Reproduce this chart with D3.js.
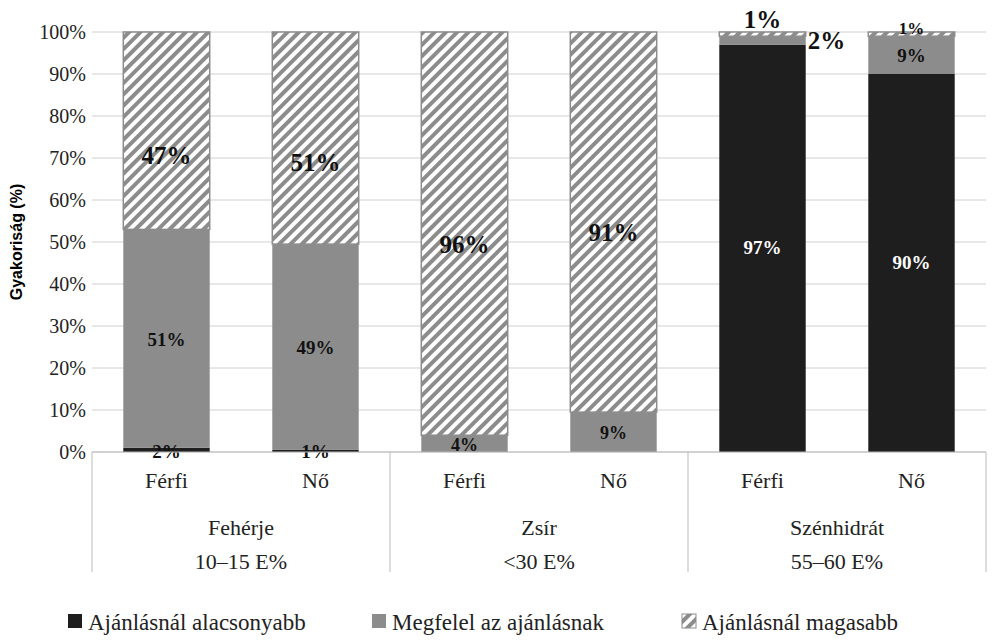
<!DOCTYPE html>
<html><head><meta charset="utf-8">
<script src="https://cdn.jsdelivr.net/npm/d3@7"></script>
<style>body{margin:0;background:#fff}</style>
</head><body>
<svg id="chart" width="992" height="641"></svg>
<script>
// data
const groups = ["Fehérje|10–15 E%", "Zsír|<30 E%", "Szénhidrát|55–60 E%"];
const sexes = ["Férfi", "Nő"];
const low = [1, 0.5, 0, 0, 97, 90];
const mid = [52, 49, 4, 9.5, 2, 9];
const high = [47, 50.5, 96, 90.5, 1, 1];
const lowLabels = ["2%", "1%", "", "", "97%", "90%"];
const midLabels = ["51%", "49%", "4%", "9%", "2%", "9%"];
const highLabels = ["47%", "51%", "96%", "91%", "1%", "1%"];
const seriesNames = ["Ajánlásnál alacsonyabb", "Megfelel az ajánlásnak", "Ajánlásnál magasabb"];
const yTicks = [0, 10, 20, 30, 40, 50, 60, 70, 80, 90, 100];

const svg = d3.select("#chart");
const plotLeft = 92, plotRight = 986, plotTop = 32, plotBottom = 452;
const serif = "'Liberation Serif', 'DejaVu Serif', serif";

// hatch pattern
const pat = svg.append("defs").append("pattern")
    .attr("id", "hatch").attr("patternUnits", "userSpaceOnUse")
    .attr("width", 8).attr("height", 8)
    .attr("patternTransform", "rotate(45)");
pat.append("rect").attr("width", 8).attr("height", 8).attr("fill", "#fff");
pat.append("rect").attr("width", 4).attr("height", 8).attr("fill", "#8c8c8c");

const bars = d3.range(6);
const x = d3.scaleBand().domain(bars).range([plotLeft, plotRight]).paddingInner(0.42).paddingOuter(0.21);
const y = d3.scaleLinear().domain([0, 100]).range([plotBottom, plotTop]);

// gridlines & y axis
svg.append("g").selectAll("line").data(yTicks).join("line")
    .attr("x1", plotLeft).attr("x2", plotRight)
    .attr("y1", d => y(d)).attr("y2", d => y(d))
    .attr("stroke", "#d0d0d0");
svg.append("g").selectAll("text").data(yTicks).join("text")
    .attr("x", plotLeft - 6).attr("y", d => y(d) + 7)
    .attr("text-anchor", "end").style("font", "20px " + serif).attr("fill", "#222")
    .text(d => d + "%");
svg.append("text")
    .attr("transform", "translate(22," + y(50) + ") rotate(-90)")
    .attr("text-anchor", "middle").style("font", "bold 16px 'Liberation Sans', sans-serif")
    .text("Gyakoriság (%)");

// stacked bars
const fills = ["#1e1e1e", "#8c8c8c", "url(#hatch)"];
const stacks = [low, mid, high];
bars.forEach(i => {
    let base = 0;
    stacks.forEach((s, k) => {
        const v = s[i];
        if (v > 0) {
            svg.append("rect")
                .attr("x", x(i)).attr("width", x.bandwidth())
                .attr("y", y(base + v)).attr("height", y(base) - y(base + v))
                .attr("fill", fills[k])
                .attr("stroke", k === 2 ? "#8c8c8c" : "none").attr("stroke-width", 1.5);
        }
        base += v;
    });
});

// data labels
const cx = i => x(i) + x.bandwidth() / 2;
function label(i, yy, txt, size, color, dx) {
    if (!txt) return;
    svg.append("text").attr("x", cx(i) + (dx || 0)).attr("y", yy)
        .attr("text-anchor", "middle").attr("fill", color)
        .style("font", "bold " + size + "px " + serif).text(txt);
}
bars.forEach(i => {
    const l = low[i], m = mid[i], h = high[i];
    if (i < 4) {
        if (lowLabels[i]) label(i, y(0) + 6, lowLabels[i], 19, "#111");
        label(i, y(l + m / 2) + 7, midLabels[i], i < 2 ? 19 : 18, "#111");
        label(i, y(l + m + h * 0.5) + 9 + (i < 2 ? 24 : 10), highLabels[i], 25, "#111");
    } else {
        label(i, y(l / 2) + 6, lowLabels[i], 19, "#fff");
        if (i === 4) {
            label(i, y(98) + 9, midLabels[i], 25, "#111", 64);
            label(i, y(100) - 4, highLabels[i], 25, "#111");
        } else {
            label(i, y(l + m / 2) + 7, midLabels[i], 19, "#111");
            label(i, y(100) + 2, highLabels[i], 17, "#111");
        }
    }
});

// category axis
svg.append("line").attr("x1", plotLeft).attr("x2", plotRight).attr("y1", plotBottom).attr("y2", plotBottom).attr("stroke", "#bbb");
const gw = (plotRight - plotLeft) / 3;
d3.range(4).forEach(g => {
    svg.append("line").attr("x1", plotLeft + g * gw).attr("x2", plotLeft + g * gw)
        .attr("y1", plotBottom).attr("y2", 572).attr("stroke", "#bbb");
});
bars.forEach(i => {
    svg.append("text").attr("x", cx(i)).attr("y", 488).attr("text-anchor", "middle")
        .style("font", "22px " + serif).attr("fill", "#222").text(sexes[i % 2]);
});
groups.forEach((g, j) => {
    g.split("|").forEach((p, k) => {
        svg.append("text").attr("x", plotLeft + gw * (j + 0.5)).attr("y", 535 + k * 34)
            .attr("text-anchor", "middle").style("font", "22px " + serif).attr("fill", "#222").text(p);
    });
});

// legend
const legX = [68, 372, 682];
seriesNames.forEach((n, k) => {
    svg.append("rect").attr("x", legX[k]).attr("y", 614).attr("width", 14).attr("height", 14)
        .attr("fill", fills[k]).attr("stroke", k === 2 ? "#8c8c8c" : "none");
    svg.append("text").attr("x", legX[k] + 20).attr("y", 630)
        .style("font", "23px " + serif).attr("fill", "#222").text(n);
});
</script>
</body></html>
